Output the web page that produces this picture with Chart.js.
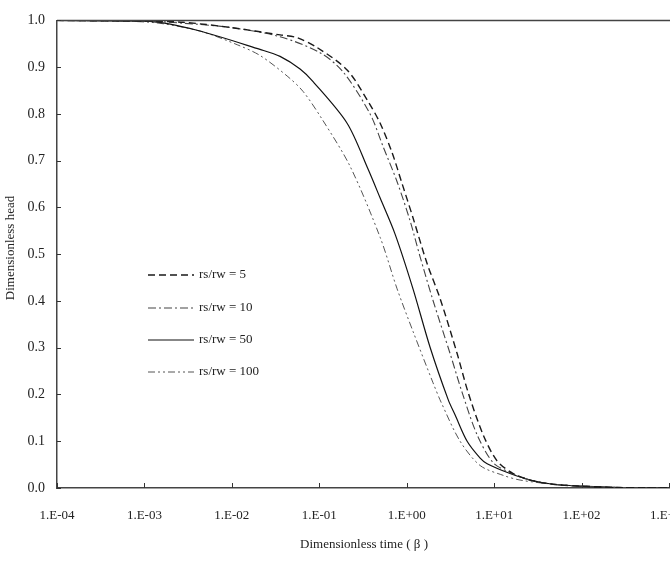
<!DOCTYPE html>
<html>
<head>
<meta charset="utf-8">
<script src="https://cdn.jsdelivr.net/npm/chart.js@4.4.1/dist/chart.umd.min.js"></script>
<style>
  body { margin: 0; background: #fff; }
  canvas { display: block; }
</style>
</head>
<body>
<canvas id="chart" width="670" height="565"></canvas>
<script>
// data (time is dimensionless beta, head is dimensionless)
const tickValues = [1e-4, 1e-3, 1e-2, 1e-1, 1e0, 1e1, 1e2, 1e3];
const tickLabels = ['1.E-04', '1.E-03', '1.E-02', '1.E-01', '1.E+00', '1.E+01', '1.E+02', '1.E+03'];
const seriesNames = ['rs/rw = 5', 'rs/rw = 10', 'rs/rw = 50', 'rs/rw = 100'];

const time5 = [1e-4, 1.16e-3, 2.77e-3, 9.5e-3, 3.56e-2, 5.57e-2, 9.44e-2, 0.208, 0.361, 0.497, 0.681, 0.885, 1.18, 1.71, 2.41, 3.78, 5.05, 7.48, 10.8, 16.5, 25.8, 47.3, 96.4, 277, 1000];
const head5 = [1.0, 0.998, 0.996, 0.985, 0.969, 0.963, 0.942, 0.894, 0.827, 0.780, 0.717, 0.651, 0.578, 0.480, 0.405, 0.287, 0.204, 0.114, 0.058, 0.031, 0.017, 0.008, 0.004, 0.001, 0];

const time10 = [1e-4, 1.16e-3, 2.77e-3, 9.5e-3, 3.56e-2, 0.102, 0.187, 0.381, 0.537, 0.776, 1.09, 1.42, 2.00, 3.14, 4.31, 6.38, 9.75, 15.2, 25.8, 47.3, 96.4, 277, 1000];
const head10 = [1.0, 0.998, 0.994, 0.985, 0.965, 0.931, 0.890, 0.800, 0.730, 0.655, 0.572, 0.495, 0.401, 0.287, 0.204, 0.114, 0.054, 0.033, 0.017, 0.008, 0.004, 0.001, 0];

const time50 = [1e-4, 1.16e-3, 4.0e-3, 2.10e-2, 3.56e-2, 6.03e-2, 8.49e-2, 0.208, 0.361, 0.497, 0.736, 1.18, 1.85, 2.98, 3.58, 4.91, 6.92, 8.32, 15.2, 25.8, 47.3, 96.4, 277, 1000];
const head50 = [1.0, 0.998, 0.979, 0.938, 0.923, 0.896, 0.869, 0.780, 0.682, 0.620, 0.543, 0.426, 0.301, 0.189, 0.156, 0.100, 0.064, 0.052, 0.031, 0.017, 0.008, 0.004, 0.001, 0];

const time100 = [1e-4, 1.16e-3, 4.33e-3, 1.15e-2, 2.10e-2, 4.29e-2, 6.53e-2, 0.110, 0.225, 0.497, 0.776, 1.18, 2.00, 2.48, 4.08, 6.92, 12.7, 19.8, 47.3, 96.4, 277, 1000];
const head100 = [1.0, 0.996, 0.977, 0.948, 0.925, 0.881, 0.848, 0.786, 0.688, 0.536, 0.426, 0.335, 0.225, 0.183, 0.100, 0.048, 0.027, 0.017, 0.008, 0.004, 0.001, 0];

const FONT = '"Liberation Serif", "DejaVu Serif", serif';

function pts(ts, hs) { return ts.map((t, i) => ({ x: t, y: hs[i] })); }

const styles = [
  { color: '#1a1a1a', width: 1.4, dash: [7, 4] },
  { color: '#444', width: 1.1, dash: [8, 3, 2, 3] },
  { color: '#111', width: 1.2, dash: [] },
  { color: '#555', width: 1.0, dash: [7, 3, 2, 3, 2, 3] }
];
const allData = [pts(time5, head5), pts(time10, head10), pts(time50, head50), pts(time100, head100)];

const datasets = allData.map((d, i) => ({
  label: seriesNames[i],
  data: d,
  borderColor: styles[i].color,
  borderWidth: styles[i].width,
  borderDash: styles[i].dash,
  pointRadius: 0,
  fill: false,
  tension: 0.3
}));

// inward ticks, top frame line, x labels, titles and the in-plot legend
const decorations = {
  id: 'decorations',
  afterDraw(c) {
    const g = c.ctx, a = c.chartArea, xs = c.scales.x, ys = c.scales.y;
    g.save();
    g.strokeStyle = '#444';
    g.lineWidth = 1.5;
    g.beginPath();
    g.moveTo(a.left, a.top); g.lineTo(a.right + 2, a.top);
    g.stroke();

    g.lineWidth = 1;
    g.strokeStyle = '#333';
    g.beginPath();
    ys.ticks.forEach(t => {
      const y = Math.round(ys.getPixelForValue(t.value)) + 0.5;
      g.moveTo(a.left, y); g.lineTo(a.left + 4, y);
    });
    tickValues.forEach(v => {
      const x = Math.round(xs.getPixelForValue(v)) + 0.5;
      g.moveTo(x, a.bottom); g.lineTo(x, a.bottom - 5);
    });
    g.stroke();

    g.fillStyle = '#222';
    g.font = '13px ' + FONT;
    g.textAlign = 'center';
    g.textBaseline = 'middle';
    tickValues.forEach((v, i) => g.fillText(tickLabels[i], xs.getPixelForValue(v), 516));
    g.fillText('Dimensionless time ( \u03B2 )', 364, 545);

    g.save();
    g.translate(11, 248);
    g.rotate(-Math.PI / 2);
    g.fillText('Dimensionless head', 0, 0);
    g.restore();

    // legend
    const rows = [275, 308, 340, 372];
    c.data.datasets.forEach((ds, i) => {
      g.strokeStyle = ds.borderColor;
      g.lineWidth = ds.borderWidth;
      g.setLineDash(ds.borderDash);
      g.beginPath();
      g.moveTo(148, rows[i]); g.lineTo(194, rows[i]);
      g.stroke();
      g.setLineDash([]);
      g.textAlign = 'left';
      g.fillText(ds.label, 199, rows[i]);
    });
    g.restore();
  }
};

new Chart(document.getElementById('chart'), {
  type: 'line',
  data: { datasets },
  options: {
    responsive: false,
    animation: false,
    layout: { padding: { top: 7, right: 1, left: 0, bottom: 0 } },
    plugins: { legend: { display: false }, tooltip: { enabled: false } },
    scales: {
      x: {
        type: 'logarithmic',
        min: 1e-4,
        max: 1e3,
        afterBuildTicks: s => { s.ticks = tickValues.map(v => ({ value: v })); },
        afterFit: s => { s.height = 77; },
        ticks: { display: false },
        grid: { display: false, drawTicks: false },
        border: { display: true, color: '#444', width: 1.5 }
      },
      y: {
        min: 0,
        max: 1,
        afterFit: s => { s.width = 57; },
        ticks: {
          stepSize: 0.1,
          padding: 12,
          color: '#222',
          font: { family: FONT, size: 14 },
          callback: v => v.toFixed(1)
        },
        grid: { display: false, drawTicks: false },
        border: { display: true, color: '#444', width: 1.5 }
      }
    }
  },
  plugins: [decorations]
});
</script>
</body>
</html>
